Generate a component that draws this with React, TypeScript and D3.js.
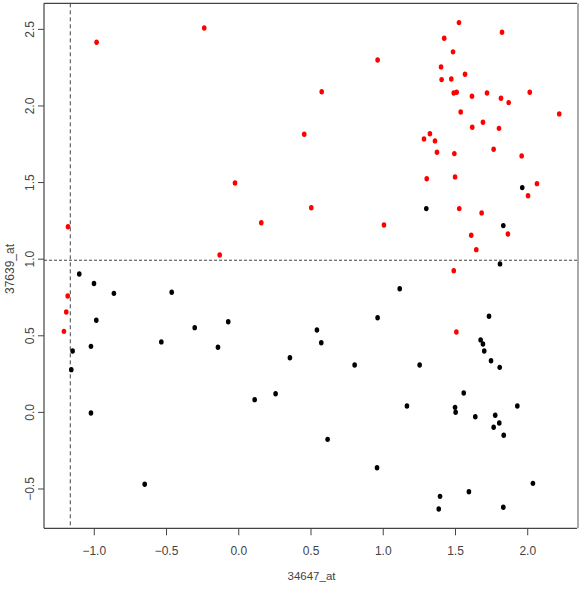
import * as d3 from 'd3';

const redX = [-0.239, -0.984, -0.026, 0.156, -1.182, -0.132, -1.184, -1.194, -1.21, 1.506,
  1.524, 1.822, 1.422, 1.483, 0.961, 1.4, 1.404, 1.471, 1.566, 0.574, 1.488, 1.508, 1.614,
  1.718, 1.815, 1.868, 2.014, 2.218, 1.536, 0.453, 1.616, 1.69, 1.801, 1.323, 1.282, 1.358,
  1.372, 1.492, 1.764, 1.958, 1.301, 1.497, 2.064, 2.002, 0.502, 1.526, 1.681, 1.005, 1.863,
  1.609, 1.644, 1.488];
const redY = [2.509, 2.416, 1.497, 1.238, 1.212, 1.027, 0.76, 0.655, 0.529, 0.525,
  2.544, 2.481, 2.442, 2.353, 2.3, 2.255, 2.172, 2.176, 2.207, 2.093, 2.085, 2.089, 2.063,
  2.085, 2.05, 2.022, 2.089, 1.948, 1.961, 1.815, 1.861, 1.894, 1.854, 1.819, 1.785, 1.772,
  1.698, 1.689, 1.717, 1.674, 1.525, 1.537, 1.493, 1.414, 1.336, 1.33, 1.302, 1.223, 1.164,
  1.156, 1.062, 0.925];

const blackX = [-1.104, -1.002, -0.864, -0.464, 1.962, 1.298, 1.831, 1.808, 1.114, -0.986,
  -1.023, -1.15, -1.159, -1.023, -0.536, -0.305, -0.144, -0.073, 0.354, 0.11, 0.255, -0.651,
  0.961, 0.541, 0.571, 1.732, 1.674, 1.69, 1.699, 1.746, 1.806, 0.802, 1.252, 1.557, 1.164,
  1.497, 1.501, 1.637, 1.775, 1.928, 1.803, 1.764, 1.834, 0.615, 0.957, 2.036, 1.593, 1.393,
  1.384, 1.831];
const blackY = [0.903, 0.841, 0.777, 0.784, 1.467, 1.33, 1.219, 0.969, 0.807, 0.601,
  0.431, 0.401, 0.279, -0.004, 0.46, 0.553, 0.425, 0.592, 0.357, 0.083, 0.122, -0.469,
  0.618, 0.538, 0.455, 0.627, 0.473, 0.446, 0.401, 0.337, 0.294, 0.309, 0.309, 0.127, 0.042,
  0.033, 0.001, -0.028, -0.019, 0.042, -0.069, -0.097, -0.149, -0.176, -0.361, -0.463, -0.518,
  -0.548, -0.631, -0.619];

const xTicks = [-1.0, -0.5, 0.0, 0.5, 1.0, 1.5, 2.0];
const yTicks = [-0.5, 0.0, 0.5, 1.0, 1.5, 2.0, 2.5];
const xCut = -1.166;
const yCut = 0.993;
const xLabel = '34647_at';
const yLabel = '37639_at';

const W = 581;
const H = 589;
const left = 44, right = 577, top = 3.3, bottom = 528.3;
const font = '"Liberation Sans Narrow", "Liberation Sans", Arial, sans-serif';
const axisColor = '#444';

export default function App() {
  const x = d3.scaleLinear().domain([-1.348, 2.341]).range([left, right]);
  const y = d3.scaleLinear().domain([-0.7565, 2.67]).range([bottom, top]);
  const fmt = d3.format('.1f');

  return (
    <svg width={W} height={H} style={{ position: 'absolute', left: 0, top: 0, background: '#fff' }}>
      {/* dashed cut-off lines */}
      <line x1={x(xCut)} x2={x(xCut)} y1={top} y2={bottom} stroke="#444" strokeDasharray="4,3" />
      <line x1={left} x2={right} y1={y(yCut)} y2={y(yCut)} stroke="#444" strokeDasharray="3,2" />

      {/* points */}
      {blackX.map((v, i) => (
        <ellipse key={'b' + i} cx={x(v)} cy={y(blackY[i])} rx={2.3} ry={2.7} fill="#000" />
      ))}
      {redX.map((v, i) => (
        <ellipse key={'r' + i} cx={x(v)} cy={y(redY[i])} rx={2.3} ry={2.7} fill="#ff0000" />
      ))}

      {/* box */}
      <line x1={left} x2={right} y1={top} y2={top} stroke={axisColor} strokeWidth={1.2} />
      <line x1={left} x2={left} y1={top} y2={bottom} stroke={axisColor} strokeWidth={1.2} />
      <line x1={left} x2={right} y1={bottom} y2={bottom} stroke={axisColor} strokeWidth={1.2} />
      <line x1={right + 1} x2={right + 1} y1={top} y2={bottom} stroke="#aaa" strokeWidth={2} />

      {/* x axis */}
      {xTicks.map(t => (
        <g key={'xt' + t}>
          <line x1={x(t)} x2={x(t)} y1={bottom} y2={bottom + 7} stroke={axisColor} />
          <text x={x(t)} y={555} textAnchor="middle" fontFamily={font} fontSize={12} fill={axisColor}>
            {fmt(t)}
          </text>
        </g>
      ))}
      <text x={311.5} y={580} textAnchor="middle" fontFamily={font} fontSize={11.5} fill={axisColor}>
        {xLabel}
      </text>

      {/* y axis */}
      {yTicks.map(t => (
        <g key={'yt' + t}>
          <line x1={left - 6} x2={left} y1={y(t)} y2={y(t)} stroke={axisColor} />
          <text transform={`translate(34,${y(t)}) rotate(-90)`} textAnchor="middle" fontFamily={font}
            fontSize={12} fill={axisColor}>
            {fmt(t)}
          </text>
        </g>
      ))}
      <text transform="translate(14,269) rotate(-90)" textAnchor="middle" fontFamily={font} fontSize={12}
        fill={axisColor}>
        {yLabel}
      </text>
    </svg>
  );
}
